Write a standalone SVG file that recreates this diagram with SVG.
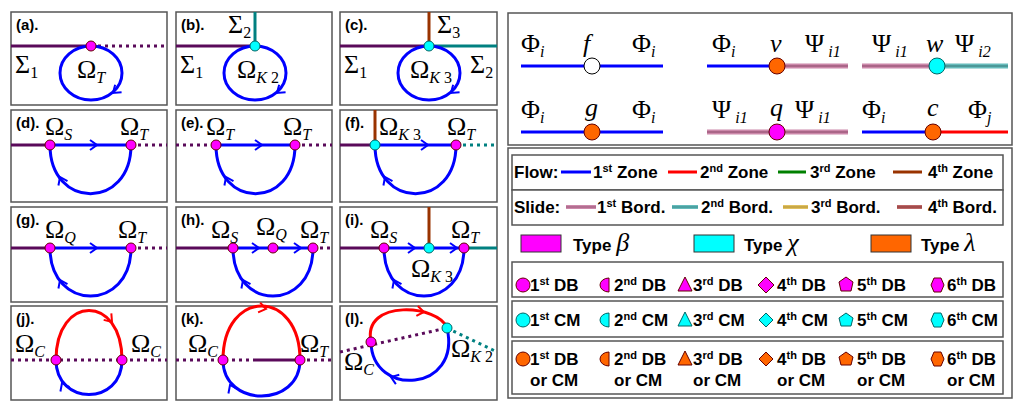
<svg xmlns="http://www.w3.org/2000/svg" width="1024" height="412" viewBox="0 0 1024 412">
<style>
.box{fill:#fff;stroke:#555;stroke-width:1.5}
.pl{stroke:#5a0a5a;stroke-width:3;fill:none}
.pd{stroke:#5a0a5a;stroke-width:3;fill:none;stroke-dasharray:3,4}
.td{stroke:#008080;stroke-width:3;fill:none;stroke-dasharray:3,4}
.tl{stroke:#008080;stroke-width:3;fill:none}
.br{stroke:#993300;stroke-width:3;fill:none}
.bl{stroke:#0000ff;stroke-width:3;fill:none}
.rd{stroke:#ff0000;stroke-width:3;fill:none}
.ab{stroke:#0000ff;stroke-width:2;fill:none}
.ar{stroke:#ff0000;stroke-width:2;fill:none}
.m{fill:#ff00ff;stroke:#600;stroke-width:1}
.c{fill:#00ffff;stroke:#066;stroke-width:1}
.o{fill:#ff6600;stroke:#600;stroke-width:1}
.lab{font-family:'Liberation Sans',Arial,sans-serif;font-weight:bold;font-size:15px}
.g{font-family:'Liberation Serif','Times New Roman',serif;font-size:26px}
.s{font-family:'Liberation Serif','Times New Roman',serif;font-size:16px;font-style:italic}
.sn{font-family:'Liberation Serif','Times New Roman',serif;font-size:16px}
.it{font-family:'Liberation Serif','Times New Roman',serif;font-size:26px;font-style:italic}
.lg{font-family:'Liberation Sans',Arial,sans-serif;font-weight:bold;font-size:17px}
.sup{font-size:11px}
</style>
<defs>
<path id="chev" d="M-7,-5 L0,0 L-7,5"/>
</defs>
<g id="panels">
<rect class="box" x="11" y="12" width="156" height="93"/>
<rect class="box" x="176" y="12" width="156" height="93"/>
<rect class="box" x="340" y="12" width="157" height="93"/>
<rect class="box" x="11" y="110" width="156" height="92"/>
<rect class="box" x="176" y="110" width="156" height="92"/>
<rect class="box" x="340" y="110" width="157" height="92"/>
<rect class="box" x="11" y="207" width="156" height="95"/>
<rect class="box" x="176" y="207" width="156" height="95"/>
<rect class="box" x="340" y="207" width="157" height="95"/>
<rect class="box" x="11" y="306" width="156" height="94"/>
<rect class="box" x="176" y="306" width="156" height="94"/>
<rect class="box" x="340" y="306" width="157" height="94"/>
</g>
<g id="connectors">
<path class="pl" d="M11,46H91"/><path class="pd" d="M91,46H167"/>
<ellipse class="bl" cx="91" cy="73" rx="31" ry="27"/>
<use href="#chev" class="ab" transform="translate(113,93) rotate(140)"/>
<path class="pl" d="M176,46H255"/><path class="tl" d="M255,46V12"/>
<ellipse class="bl" cx="255" cy="73" rx="31" ry="27"/>
<use href="#chev" class="ab" transform="translate(277,93) rotate(140)"/>
<path class="pl" d="M340,46H429"/><path class="br" d="M429,46V12"/><path class="tl" d="M429,46H497"/>
<ellipse class="bl" cx="429" cy="73" rx="31" ry="27"/>
<use href="#chev" class="ab" transform="translate(451,93) rotate(140)"/>
<path class="pl" d="M11,145H50"/><path class="bl" d="M50,145H131"/><path class="pd" d="M131,145H167"/>
<path class="bl" d="M50,145C50,210 131,210 131,145"/>
<use href="#chev" class="ab" transform="translate(97,145)"/>
<use href="#chev" class="ab" transform="translate(60,177) rotate(-115)"/>
<path class="pd" d="M176,145H216"/><path class="bl" d="M216,145H295"/><path class="pd" d="M295,145H332"/>
<path class="bl" d="M216,145C216,210 295,210 295,145"/>
<use href="#chev" class="ab" transform="translate(262,145)"/>
<use href="#chev" class="ab" transform="translate(226,177) rotate(-115)"/>
<path class="pl" d="M340,145H375"/><path class="br" d="M375,145V110"/><path class="bl" d="M375,145H456"/><path class="td" d="M456,145H497"/>
<path class="bl" d="M375,145C375,210 456,210 456,145"/>
<use href="#chev" class="ab" transform="translate(428,145)"/>
<use href="#chev" class="ab" transform="translate(385,177) rotate(-115)"/>
<path class="pl" d="M11,248H50"/><path class="bl" d="M50,248H131"/><path class="pd" d="M131,248H167"/>
<path class="bl" d="M50,248C50,312 131,312 131,248"/>
<use href="#chev" class="ab" transform="translate(97,248)"/>
<use href="#chev" class="ab" transform="translate(60,280) rotate(-115)"/>
<path class="pl" d="M176,248H233"/><path class="bl" d="M233,248H313"/><path class="pd" d="M313,248H332"/>
<path class="bl" d="M233,248C233,312 313,312 313,248"/>
<use href="#chev" class="ab" transform="translate(259,248)"/>
<use href="#chev" class="ab" transform="translate(301,248)"/>
<use href="#chev" class="ab" transform="translate(243,280) rotate(-115)"/>
<path class="pl" d="M340,248H384"/><path class="bl" d="M384,248H464"/><path class="br" d="M429,248V207"/><path class="tl" d="M464,248H497"/>
<path class="bl" d="M384,248C384,312 464,312 464,248"/>
<use href="#chev" class="ab" transform="translate(415,248)"/>
<use href="#chev" class="ab" transform="translate(457,248)"/>
<use href="#chev" class="ab" transform="translate(394,280) rotate(-115)"/>
<path class="pd" d="M11,360H167"/>
<path class="rd" d="M56,360C56,294 122,294 122,360"/>
<path class="bl" d="M56,360C56,406 122,406 122,360"/>
<use href="#chev" class="ar" transform="translate(112,322) rotate(50)"/>
<use href="#chev" class="ab" transform="translate(62,383) rotate(-115)"/>
<path class="pd" d="M176,360H253"/><path class="pl" d="M253,360H300"/><path class="pd" d="M300,360H332"/>
<path class="rd" d="M223,360C223,288 300,288 300,360"/>
<path class="bl" d="M223,360C223,408 300,408 300,360"/>
<use href="#chev" class="ar" transform="translate(266,309) rotate(12)"/>
<use href="#chev" class="ab" transform="translate(230,385) rotate(-115)"/>
<path class="pd" d="M340,352L447,328"/><path class="td" d="M447,328L497,352"/>
<path class="rd" d="M371,342C362,298 440,305 447,328"/>
<path class="bl" d="M371,342C372,398 462,392 447,328"/>
<use href="#chev" class="ar" transform="translate(424,312) rotate(8)"/>
<use href="#chev" class="ab" transform="translate(391,377) rotate(200)"/>
</g>
<g id="nodes">
<circle class="m" cx="91" cy="46" r="5"/>
<circle class="c" cx="255" cy="46" r="5"/>
<circle class="c" cx="429" cy="46" r="5"/>
<circle class="m" cx="50" cy="145" r="5"/><circle class="m" cx="131" cy="145" r="5"/>
<circle class="m" cx="216" cy="145" r="5"/><circle class="m" cx="295" cy="145" r="5"/>
<circle class="c" cx="375" cy="145" r="5"/><circle class="m" cx="456" cy="145" r="5"/>
<circle class="m" cx="50" cy="248" r="5"/><circle class="m" cx="131" cy="248" r="5"/>
<circle class="m" cx="233" cy="248" r="5"/><circle class="m" cx="273" cy="248" r="5"/><circle class="m" cx="313" cy="248" r="5"/>
<circle class="m" cx="384" cy="248" r="5"/><circle class="c" cx="429" cy="248" r="5"/><circle class="m" cx="464" cy="248" r="5"/>
<circle class="m" cx="56" cy="360" r="5"/><circle class="m" cx="122" cy="360" r="5"/>
<circle class="m" cx="223" cy="360" r="5"/><circle class="m" cx="300" cy="360" r="5"/>
<circle class="m" cx="371" cy="342" r="5"/><circle class="c" cx="447" cy="328" r="5"/>
</g>
<g id="labels">
<text class="lab" x="16" y="30">(a).</text>
<text class="lab" x="181" y="30">(b).</text>
<text class="lab" x="345" y="30">(c).</text>
<text class="lab" x="16" y="128">(d).</text>
<text class="lab" x="181" y="128">(e).</text>
<text class="lab" x="345" y="128">(f).</text>
<text class="lab" x="16" y="225">(g).</text>
<text class="lab" x="181" y="225">(h).</text>
<text class="lab" x="345" y="225">(i).</text>
<text class="lab" x="16" y="324">(j).</text>
<text class="lab" x="181" y="324">(k).</text>
<text class="lab" x="345" y="324">(l).</text>
<text class="g" x="15" y="73">Σ<tspan class="sn" dy="5">1</tspan></text>
<text class="g" x="77" y="78">Ω<tspan class="s" dy="5">T</tspan></text>
<text class="g" x="228" y="33">Σ<tspan class="sn" dy="5">2</tspan></text>
<text class="g" x="180" y="73">Σ<tspan class="sn" dy="5">1</tspan></text>
<text class="g" x="237" y="78">Ω<tspan class="s" dy="5">K</tspan><tspan class="sn"> 2</tspan></text>
<text class="g" x="437" y="33">Σ<tspan class="sn" dy="5">3</tspan></text>
<text class="g" x="344" y="73">Σ<tspan class="sn" dy="5">1</tspan></text>
<text class="g" x="470" y="73">Σ<tspan class="sn" dy="5">2</tspan></text>
<text class="g" x="410" y="78">Ω<tspan class="s" dy="5">K</tspan><tspan class="sn"> 3</tspan></text>
<text class="g" x="45" y="135">Ω<tspan class="s" dy="5">S</tspan></text>
<text class="g" x="120" y="135">Ω<tspan class="s" dy="5">T</tspan></text>
<text class="g" x="206" y="135">Ω<tspan class="s" dy="5">T</tspan></text>
<text class="g" x="283" y="135">Ω<tspan class="s" dy="5">T</tspan></text>
<text class="g" x="379" y="135">Ω<tspan class="s" dy="5">K</tspan><tspan class="sn"> 3</tspan></text>
<text class="g" x="447" y="135">Ω<tspan class="s" dy="5">T</tspan></text>
<text class="g" x="45" y="238">Ω<tspan class="s" dy="5">Q</tspan></text>
<text class="g" x="118" y="238">Ω<tspan class="s" dy="5">T</tspan></text>
<text class="g" x="211" y="238">Ω<tspan class="s" dy="5">S</tspan></text>
<text class="g" x="256" y="235">Ω<tspan class="s" dy="5">Q</tspan></text>
<text class="g" x="300" y="238">Ω<tspan class="s" dy="5">T</tspan></text>
<text class="g" x="370" y="238">Ω<tspan class="s" dy="5">S</tspan></text>
<text class="g" x="451" y="238">Ω<tspan class="s" dy="5">T</tspan></text>
<text class="g" x="411" y="277">Ω<tspan class="s" dy="5">K</tspan><tspan class="sn"> 3</tspan></text>
<text class="g" x="15" y="352">Ω<tspan class="s" dy="5">C</tspan></text>
<text class="g" x="131" y="352">Ω<tspan class="s" dy="5">C</tspan></text>
<text class="g" x="188" y="352">Ω<tspan class="s" dy="5">C</tspan></text>
<text class="g" x="300" y="352">Ω<tspan class="s" dy="5">T</tspan></text>
<text class="g" x="344" y="370">Ω<tspan class="s" dy="5">C</tspan></text>
<text class="g" x="451" y="357">Ω<tspan class="s" dy="5">K</tspan><tspan class="sn"> 2</tspan></text>
</g>
<g id="vertex-legend">
<rect class="box" x="508" y="13" width="504" height="132"/>
<path class="bl" d="M521,66H663"/><circle cx="592" cy="66" r="8" fill="#fff" stroke="#000" stroke-width="1"/>
<text class="g" x="521" y="52">Φ<tspan class="s" dy="5">i</tspan></text>
<text class="it" x="583" y="52">f</text>
<text class="g" x="632" y="52">Φ<tspan class="s" dy="5">i</tspan></text>
<path class="bl" d="M707,66H777"/>
<path d="M777,66H848" stroke="#cc88aa" stroke-width="5"/><path d="M777,66H848" stroke="#884466" stroke-width="1"/>
<circle class="o" cx="777" cy="66" r="8"/>
<text class="g" x="712" y="52">Φ<tspan class="s" dy="5">i</tspan></text>
<text class="it" x="770" y="52">v</text>
<text class="g" x="805" y="52">Ψ<tspan class="s" dx="4" dy="5">i1</tspan></text>
<path d="M862,66H937" stroke="#cc88aa" stroke-width="5"/><path d="M862,66H937" stroke="#884466" stroke-width="1"/>
<path d="M937,66H1008" stroke="#66bbbb" stroke-width="5"/><path d="M937,66H1008" stroke="#337777" stroke-width="1"/>
<circle class="c" cx="937" cy="66" r="8"/>
<text class="g" x="872" y="52">Ψ<tspan class="s" dx="4" dy="5">i1</tspan></text>
<text class="it" x="926" y="52">w</text>
<text class="g" x="955" y="52">Ψ<tspan class="s" dx="4" dy="5">i2</tspan></text>
<path class="bl" d="M521,132H663"/><circle class="o" cx="592" cy="132" r="8"/>
<text class="g" x="521" y="118">Φ<tspan class="s" dy="5">i</tspan></text>
<text class="it" x="585" y="116">g</text>
<text class="g" x="632" y="118">Φ<tspan class="s" dy="5">i</tspan></text>
<path d="M707,132H848" stroke="#cc88aa" stroke-width="5"/><path d="M707,132H848" stroke="#884466" stroke-width="1"/>
<circle class="m" cx="777" cy="132" r="8"/>
<text class="g" x="712" y="118">Ψ<tspan class="s" dx="4" dy="5">i1</tspan></text>
<text class="it" x="770" y="116">q</text>
<text class="g" x="795" y="118">Ψ<tspan class="s" dx="4" dy="5">i1</tspan></text>
<path class="bl" d="M862,132H933"/><path class="rd" d="M933,132H1008"/>
<circle class="o" cx="933" cy="132" r="8"/>
<text class="g" x="862" y="118">Φ<tspan class="s" dy="5">i</tspan></text>
<text class="it" x="927" y="116">c</text>
<text class="g" x="968" y="118">Φ<tspan class="s" dy="5">j</tspan></text>
</g>
<g id="style-legend">
<rect class="box" x="508" y="148" width="504" height="250"/>
<rect class="box" x="512" y="155" width="491" height="35"/>
<rect class="box" x="512" y="190" width="491" height="35"/>
<text class="lg" x="514" y="178">Flow:</text>
<path d="M561,172H591" stroke="#0000ff" stroke-width="3"/>
<text class="lg" x="593" y="178">1<tspan class="sup" dy="-6">st</tspan><tspan dy="6"> Zone</tspan></text>
<path d="M668,172H697" stroke="#ff0000" stroke-width="3"/>
<text class="lg" x="700" y="178">2<tspan class="sup" dy="-6">nd</tspan><tspan dy="6"> Zone</tspan></text>
<path d="M778,172H806" stroke="#008000" stroke-width="3"/>
<text class="lg" x="810" y="178">3<tspan class="sup" dy="-6">rd</tspan><tspan dy="6"> Zone</tspan></text>
<path d="M893,172H922" stroke="#993300" stroke-width="3"/>
<text class="lg" x="928" y="178">4<tspan class="sup" dy="-6">th</tspan><tspan dy="6"> Zone</tspan></text>
<text class="lg" x="514" y="213">Slide:</text>
<path d="M566,207H596" stroke="#cc88aa" stroke-width="4"/><path d="M566,207H596" stroke="#995577" stroke-width="1"/>
<text class="lg" x="597" y="213">1<tspan class="sup" dy="-6">st</tspan><tspan dy="6"> Bord.</tspan></text>
<path d="M672,207H698" stroke="#66bbbb" stroke-width="4"/><path d="M672,207H698" stroke="#338888" stroke-width="1"/>
<text class="lg" x="701" y="213">2<tspan class="sup" dy="-6">nd</tspan><tspan dy="6"> Bord.</tspan></text>
<path d="M783,207H808" stroke="#e0c060" stroke-width="4"/><path d="M783,207H808" stroke="#b09030" stroke-width="1"/>
<text class="lg" x="811" y="213">3<tspan class="sup" dy="-6">rd</tspan><tspan dy="6"> Bord.</tspan></text>
<path d="M897,207H922" stroke="#bb6666" stroke-width="4"/><path d="M897,207H922" stroke="#883333" stroke-width="1"/>
<text class="lg" x="928" y="213">4<tspan class="sup" dy="-6">th</tspan><tspan dy="6"> Bord.</tspan></text>
<rect x="521" y="235" width="40" height="17" fill="#ff00ff" stroke="#333"/>
<text class="lg" x="573" y="251">Type <tspan class="it" font-weight="normal">β</tspan></text>
<rect x="694" y="235" width="40" height="17" fill="#00ffff" stroke="#333"/>
<text class="lg" x="744" y="251">Type <tspan class="it" font-weight="normal">χ</tspan></text>
<rect x="871" y="235" width="40" height="17" fill="#ff6600" stroke="#333"/>
<text class="lg" x="921" y="251">Type <tspan class="it" font-weight="normal">λ</tspan></text>
<rect class="box" x="512" y="262" width="491" height="35"/>
<rect class="box" x="512" y="301" width="491" height="36"/>
<rect class="box" x="512" y="341" width="491" height="53"/>
</g>
<g id="shape-legend">
<g class="m"><circle cx="523" cy="285" r="7"/>
<path d="M609,278V292A9,7 0 0 1 609,278Z"/>
<path d="M685,277L692,291H678Z"/><path d="M766,277L774,285L766,293L758,285Z"/>
<path d="M846,277L853,282L851,291H841L839,282Z"/><path d="M934,278H941L944,285L941,292H934L931,285Z"/></g>
<text class="lg" x="530" y="291">1<tspan class="sup" dy="-6">st</tspan><tspan dy="6"> DB</tspan></text>
<text class="lg" x="614" y="291">2<tspan class="sup" dy="-6">nd</tspan><tspan dy="6"> DB</tspan></text>
<text class="lg" x="693" y="291">3<tspan class="sup" dy="-6">rd</tspan><tspan dy="6"> DB</tspan></text>
<text class="lg" x="777" y="291">4<tspan class="sup" dy="-6">th</tspan><tspan dy="6"> DB</tspan></text>
<text class="lg" x="857" y="291">5<tspan class="sup" dy="-6">th</tspan><tspan dy="6"> DB</tspan></text>
<text class="lg" x="947" y="291">6<tspan class="sup" dy="-6">th</tspan><tspan dy="6"> DB</tspan></text>
<g class="c"><circle cx="523" cy="320" r="7"/>
<path d="M609,313V327A9,7 0 0 1 609,313Z"/>
<path d="M685,312L692,326H678Z"/><path d="M766,313L773,320L766,327L759,320Z"/>
<path d="M846,313L853,318L851,326H841L839,318Z"/><path d="M934,313H941L944,320L941,327H934L931,320Z"/></g>
<text class="lg" x="530" y="326">1<tspan class="sup" dy="-6">st</tspan><tspan dy="6"> CM</tspan></text>
<text class="lg" x="614" y="326">2<tspan class="sup" dy="-6">nd</tspan><tspan dy="6"> CM</tspan></text>
<text class="lg" x="693" y="326">3<tspan class="sup" dy="-6">rd</tspan><tspan dy="6"> CM</tspan></text>
<text class="lg" x="777" y="326">4<tspan class="sup" dy="-6">th</tspan><tspan dy="6"> CM</tspan></text>
<text class="lg" x="857" y="326">5<tspan class="sup" dy="-6">th</tspan><tspan dy="6"> CM</tspan></text>
<text class="lg" x="947" y="326">6<tspan class="sup" dy="-6">th</tspan><tspan dy="6"> CM</tspan></text>
<g class="o"><circle cx="523" cy="359" r="7"/>
<path d="M609,352V366A9,7 0 0 1 609,352Z"/>
<path d="M685,351L692,365H678Z"/><path d="M766,352L773,359L766,366L759,359Z"/>
<path d="M846,352L853,357L851,365H841L839,357Z"/><path d="M934,352H941L944,359L941,366H934L931,359Z"/></g>
<text class="lg" x="530" y="365">1<tspan class="sup" dy="-6">st</tspan><tspan dy="6"> DB</tspan></text>
<text class="lg" x="614" y="365">2<tspan class="sup" dy="-6">nd</tspan><tspan dy="6"> DB</tspan></text>
<text class="lg" x="693" y="365">3<tspan class="sup" dy="-6">rd</tspan><tspan dy="6"> DB</tspan></text>
<text class="lg" x="777" y="365">4<tspan class="sup" dy="-6">th</tspan><tspan dy="6"> DB</tspan></text>
<text class="lg" x="857" y="365">5<tspan class="sup" dy="-6">th</tspan><tspan dy="6"> DB</tspan></text>
<text class="lg" x="947" y="365">6<tspan class="sup" dy="-6">th</tspan><tspan dy="6"> DB</tspan></text>
<text class="lg" x="530" y="386">or CM</text>
<text class="lg" x="614" y="386">or CM</text>
<text class="lg" x="693" y="386">or CM</text>
<text class="lg" x="777" y="386">or CM</text>
<text class="lg" x="857" y="386">or CM</text>
<text class="lg" x="947" y="386">or CM</text>
</g>
</svg>
